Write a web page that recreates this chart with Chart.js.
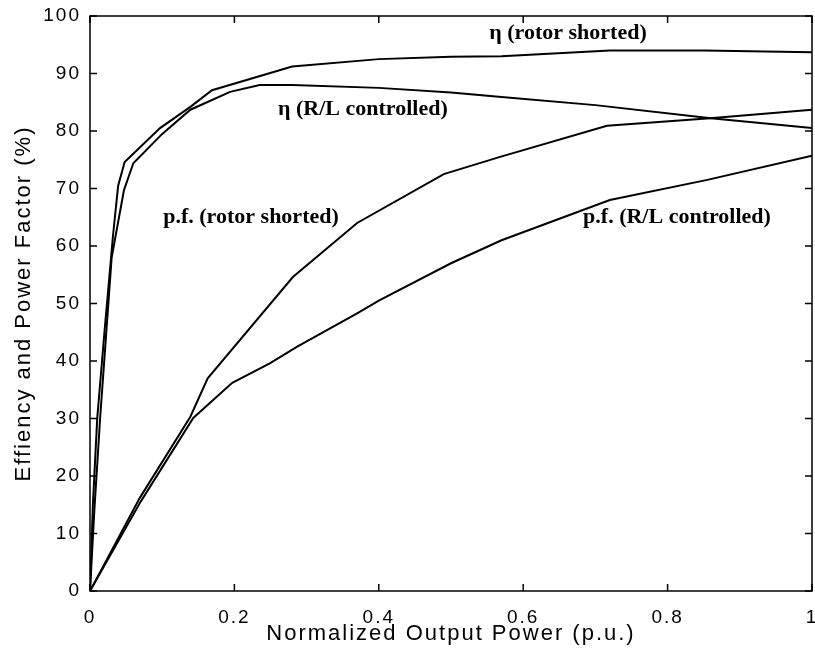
<!DOCTYPE html>
<html>
<head>
<meta charset="utf-8">
<script src="https://cdn.jsdelivr.net/npm/chart.js@4.4.0/dist/chart.umd.min.js"></script>
<style>
    html, body { margin: 0; padding: 0; background: #fff; }
    #wrap { width: 815px; height: 657px; }
</style>
</head>
<body>
<div id="wrap"><canvas id="chart"></canvas></div>
<script>
// Efficiency curves (x = normalized output power, y = %)
const etaShortedX = [0, 0.004, 0.01, 0.02, 0.032, 0.039, 0.048, 0.097, 0.139, 0.169, 0.28, 0.4, 0.5, 0.57, 0.72, 0.85, 1.0];
const etaShortedY = [0, 15, 30, 45, 62, 70.5, 74.6, 80.5, 84.2, 87.1, 91.2, 92.5, 92.9, 93.0, 94.0, 94.0, 93.7];

const etaRLX = [0, 0.006, 0.014, 0.03, 0.047, 0.06, 0.1, 0.139, 0.194, 0.235, 0.28, 0.4, 0.5, 0.57, 0.7, 0.86, 1.0];
const etaRLY = [0, 14, 30, 58, 69.7, 74.4, 79.5, 83.7, 86.8, 88.0, 88.0, 87.5, 86.7, 85.9, 84.5, 82.2, 80.5];

// Power factor curves
const pfShortedX = [0, 0.069, 0.139, 0.163, 0.281, 0.37, 0.49, 0.568, 0.716, 0.859, 1.0];
const pfShortedY = [0, 16.2, 30.3, 37, 54.6, 64, 72.5, 75.5, 80.9, 82.2, 83.7];

const pfRLX = [0, 0.07, 0.143, 0.197, 0.249, 0.287, 0.37, 0.4, 0.5, 0.57, 0.72, 0.855, 1.0];
const pfRLY = [0, 15.5, 30.1, 36.2, 39.6, 42.5, 48.3, 50.5, 57, 61, 68, 71.5, 75.7];

// Axis ticks
const xTicks = [0, 0.2, 0.4, 0.6, 0.8, 1];
const xTickLabels = ['0', '0.2', '0.4', '0.6', '0.8', '1'];
const yTicks = [0, 10, 20, 30, 40, 50, 60, 70, 80, 90, 100];

// Curve labels placed in data units
const curveLabels = [
    { text: 'η (rotor shorted)', x: 0.662, y: 97.0 },
    { text: 'η (R/L controlled)', x: 0.378, y: 83.7 },
    { text: 'p.f. (rotor shorted)', x: 0.223, y: 65.0 },
    { text: 'p.f. (R/L controlled)', x: 0.813, y: 65.0 }
];

const toPoints = (xs, ys) => xs.map((x, i) => ({ x: x, y: ys[i] }));

const lineStyle = {
    borderColor: '#000',
    borderWidth: 2,
    pointRadius: 0,
    showLine: true,
    fill: false,
    tension: 0
};

// Box frame, inward ticks and curve labels
const framePlugin = {
    id: 'frame',
    beforeDraw(chart) {
        chart.ctx.letterSpacing = '2px';
    },
    afterDatasetsDraw(chart) {
        const { ctx, chartArea: a, scales: { x, y } } = chart;
        ctx.save();
        ctx.letterSpacing = '0px';
        ctx.strokeStyle = '#000';
        ctx.lineWidth = 1.5;
        ctx.strokeRect(a.left, a.top, a.right - a.left, a.bottom - a.top);
        ctx.beginPath();
        xTicks.forEach(v => {
            const px = x.getPixelForValue(v);
            ctx.moveTo(px, a.bottom); ctx.lineTo(px, a.bottom - 7);
            ctx.moveTo(px, a.top); ctx.lineTo(px, a.top + 7);
        });
        yTicks.forEach(v => {
            const py = y.getPixelForValue(v);
            ctx.moveTo(a.left, py); ctx.lineTo(a.left + 7, py);
            ctx.moveTo(a.right, py); ctx.lineTo(a.right - 7, py);
        });
        ctx.stroke();

        ctx.fillStyle = '#000';
        ctx.font = 'bold 22px "Liberation Serif", "Times New Roman", serif';
        ctx.textAlign = 'center';
        ctx.textBaseline = 'middle';
        curveLabels.forEach(l => {
            ctx.fillText(l.text, x.getPixelForValue(l.x), y.getPixelForValue(l.y));
        });
        ctx.restore();
    }
};

const axisFont = { family: '"Liberation Sans", Arial, sans-serif', size: 19 };
const titleFont = { family: '"Liberation Sans", Arial, sans-serif', size: 22 };

new Chart(document.getElementById('chart'), {
    type: 'scatter',
    data: {
        datasets: [
            { label: 'eta rotor shorted', data: toPoints(etaShortedX, etaShortedY), ...lineStyle },
            { label: 'eta R/L controlled', data: toPoints(etaRLX, etaRLY), ...lineStyle },
            { label: 'pf rotor shorted', data: toPoints(pfShortedX, pfShortedY), ...lineStyle },
            { label: 'pf R/L controlled', data: toPoints(pfRLX, pfRLY), ...lineStyle }
        ]
    },
    options: {
        animation: false,
        responsive: true,
        maintainAspectRatio: false,
        layout: { padding: { top: 16, right: 3, left: 0, bottom: 0 } },
        plugins: {
            legend: { display: false },
            tooltip: { enabled: false }
        },
        scales: {
            x: {
                type: 'linear',
                min: 0,
                max: 1,
                afterBuildTicks: scale => { scale.ticks = xTicks.map(v => ({ value: v })); },
                afterFit: scale => {
                    scale.height = 66;
                    scale.paddingLeft = 0;
                    scale.paddingRight = 0;
                },
                grid: { display: false },
                border: { display: false },
                ticks: {
                    color: '#000',
                    font: axisFont,
                    padding: 7,
                    maxRotation: 0,
                    callback: (v, i) => xTickLabels[i]
                },
                title: {
                    display: true,
                    text: 'Normalized Output Power (p.u.)',
                    color: '#000',
                    font: titleFont,
                    padding: { top: 0, bottom: 10 }
                }
            },
            y: {
                type: 'linear',
                min: 0,
                max: 100,
                afterBuildTicks: scale => { scale.ticks = yTicks.map(v => ({ value: v })); },
                afterFit: scale => {
                    scale.width = 90;
                    scale.paddingTop = 0;
                    scale.paddingBottom = 0;
                },
                grid: { display: false },
                border: { display: false },
                ticks: {
                    color: '#000',
                    font: axisFont,
                    padding: 1
                },
                title: {
                    display: true,
                    text: 'Effiency and Power Factor (%)',
                    color: '#000',
                    font: titleFont,
                    padding: { top: 11, bottom: 0 }
                }
            }
        }
    },
    plugins: [framePlugin]
});
</script>
</body>
</html>
